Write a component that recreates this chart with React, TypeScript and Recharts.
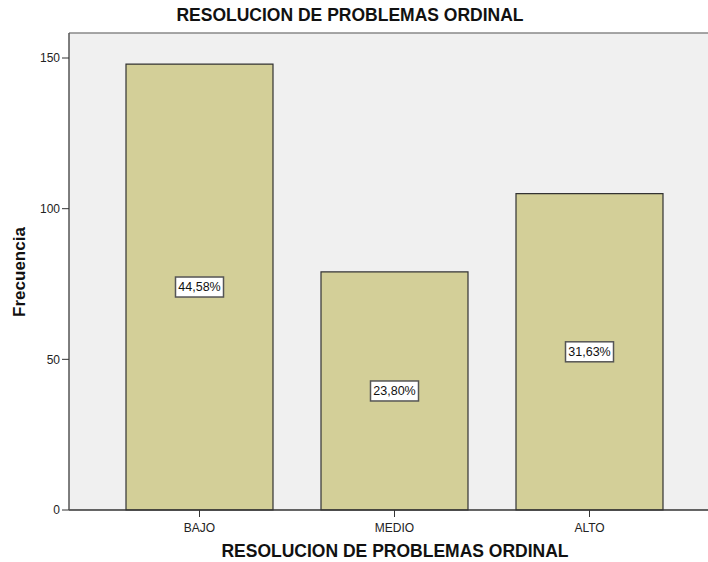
import React from "react";
import {
  BarChart,
  Bar,
  CartesianGrid,
  LabelList,
  ReferenceLine,
  XAxis,
  YAxis,
} from "recharts";

const categories = ["BAJO", "MEDIO", "ALTO"];
const counts = [148, 79, 105];
const yTicks = [0, 50, 100, 150];

const TITLE = "RESOLUCION DE PROBLEMAS ORDINAL";
const FONT = "'Liberation Sans', Arial, sans-serif";
const Y_MAX = 158.3; // top of the plot frame sits a bit above 150

const total = counts.reduce((a, b) => a + b, 0);
const data = categories.map((name, i) => ({
  name,
  count: counts[i],
  pct: ((counts[i] / total) * 100).toFixed(2).replace(".", ",") + "%",
}));

// white boxed percentage centered inside each bar
function PctLabel(props: any) {
  const { x, y, width, height, value } = props;
  const cx = x + width / 2;
  const cy = y + height / 2;
  const w = 48;
  const h = 20;
  return (
    <g>
      <rect
        x={cx - w / 2}
        y={cy - h / 2}
        width={w}
        height={h}
        fill="#ffffff"
        stroke="#555555"
        strokeWidth={1.5}
      />
      <text
        x={cx}
        y={cy}
        textAnchor="middle"
        dominantBaseline="central"
        fontSize={12.5}
        fontFamily={FONT}
        fill="#111"
      >
        {value}
      </text>
    </g>
  );
}

export default function App() {
  return (
    <div style={{ position: "absolute", left: 0, top: 0, width: 708, height: 562, background: "#fff" }}>
      <div
        style={{
          position: "absolute",
          left: 0,
          width: 700,
          top: 5,
          textAlign: "center",
          fontFamily: FONT,
          fontWeight: "bold",
          fontSize: 17.5,
          color: "#111",
          lineHeight: "20px",
        }}
      >
        {TITLE}
      </div>
      <BarChart
        width={708}
        height={562}
        data={data}
        margin={{ top: 33, right: 0, bottom: 0, left: 0 }}
        barCategoryGap={24}
      >
        <CartesianGrid horizontal={false} vertical={false} fill="#f0f0f0" />
        <XAxis
          dataKey="name"
          height={52}
          padding={{ left: 33, right: 21 }}
          tickSize={7}
          tickMargin={6}
          axisLine={{ stroke: "#333", strokeWidth: 1.5 }}
          tickLine={{ stroke: "#333" }}
          tick={{ fontSize: 12, fontFamily: FONT, fill: "#222" }}
          label={{
            content: () => (
              <text
                x={395}
                y={557}
                textAnchor="middle"
                fontSize={17.5}
                fontWeight="bold"
                fontFamily={FONT}
                fill="#111"
              >
                {TITLE}
              </text>
            ),
          }}
        />
        <YAxis
          width={69}
          domain={[0, Y_MAX]}
          ticks={yTicks}
          tickSize={7}
          tickMargin={2}
          axisLine={{ stroke: "#555", strokeWidth: 1.5 }}
          tickLine={{ stroke: "#333" }}
          tick={{ fontSize: 12, fontFamily: FONT, fill: "#222" }}
          label={{
            content: () => (
              <text
                x={25}
                y={272}
                transform="rotate(-90 25 272)"
                textAnchor="middle"
                fontSize={17}
                fontWeight="bold"
                fontFamily={FONT}
                fill="#111"
              >
                Frecuencia
              </text>
            ),
          }}
        />
        <ReferenceLine y={Y_MAX} stroke="#888" strokeWidth={1.5} />
        <Bar
          dataKey="count"
          fill="#d3cf98"
          stroke="#333"
          strokeWidth={1.2}
          isAnimationActive={false}
        >
          <LabelList dataKey="pct" content={<PctLabel />} />
        </Bar>
      </BarChart>
    </div>
  );
}
